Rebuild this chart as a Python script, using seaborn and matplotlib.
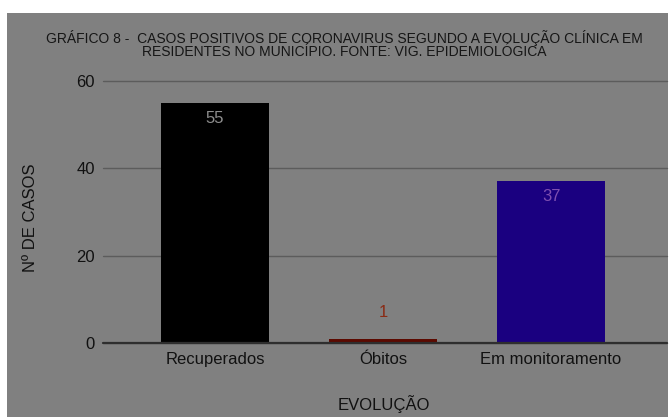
import matplotlib
matplotlib.use('Agg')
import matplotlib.pyplot as plt
import seaborn as sns
from matplotlib.patches import Rectangle

# ---- data ----
categories = ['Recuperados', 'Óbitos', 'Em monitoramento']
casos = [55, 1, 37]
bar_colors = ['#000000', '#5c0a00', '#1a0080']
label_colors = ['#8e8e8e', '#8a2a14', '#7e4fb0']
y_ticks = [0, 20, 40, 60]
title_lines = ['GRÁFICO 8 -  CASOS POSITIVOS DE CORONAVIRUS SEGUNDO A EVOLUÇÃO CLÍNICA EM',
               'RESIDENTES NO MUNICÍPIO. FONTE: VIG. EPIDEMIOLÓGICA']
x_label = 'EVOLUÇÃO'
y_label = 'Nº DE CASOS'

sns.set_style('white')
plt.rcParams['font.family'] = ['Liberation Sans', 'DejaVu Sans']

W, H = 669, 417
fig = plt.figure(figsize=(W / 100, H / 100), dpi=100)
fig.patch.set_facecolor('white')
bg = '#808080'
fig.patches.append(Rectangle((7 / W, 0), (668 - 7) / W, (H - 13) / H,
                             transform=fig.transFigure, facecolor=bg,
                             edgecolor='none', zorder=-10))

ax = fig.add_axes([103 / W, 1 - 343 / H, (667 - 103) / W, (343 - 81) / H])
ax.set_facecolor(bg)

sns.barplot(x=categories, y=casos, hue=categories, palette=bar_colors,
            legend=False, width=0.64, saturation=1, ax=ax, zorder=2,
            linewidth=0, edgecolor='none')

ax.set_xlim(-0.667, 2.69)
ax.set_ylim(0, 60)
ax.set_yticks(y_ticks)
ax.set_axisbelow(True)
ax.grid(axis='y', color='#5c5c5c', linewidth=1.0)
ax.grid(axis='x', visible=False)
for gl in ax.get_ygridlines():
    gl.set_clip_on(False)
ax.axhline(0, color='#2e2e2e', linewidth=1.6, zorder=3, clip_on=False)
for s in ax.spines.values():
    s.set_visible(False)

txt = '#111111'
ax.tick_params(axis='y', length=0, pad=5.8, labelsize=12, labelcolor=txt)
ax.tick_params(axis='x', length=0, pad=6.5, labelsize=12, labelcolor=txt)

for i, (val, col) in enumerate(zip(casos, label_colors)):
    off = -11 if val > 10 else 19
    ax.annotate(str(val), xy=(i, val), xytext=(0, off), textcoords='offset points',
                ha='center', va='center', fontsize=12, color=col, zorder=5)

ax.set_xlabel(x_label, fontsize=12, color=txt)
ax.xaxis.set_label_coords(0.498, -0.198)
ax.xaxis.label.set_va('top')
ax.set_ylabel(y_label, fontsize=12, color=txt)
ax.yaxis.set_label_coords(-0.115, 0.477)

fig.text(344 / W, 1 - 29.5 / H, '\n'.join(title_lines), ha='center', va='top',
         fontsize=10, linespacing=0.92, color='#161616')

fig.savefig('out.png', dpi=100, facecolor=fig.get_facecolor())
